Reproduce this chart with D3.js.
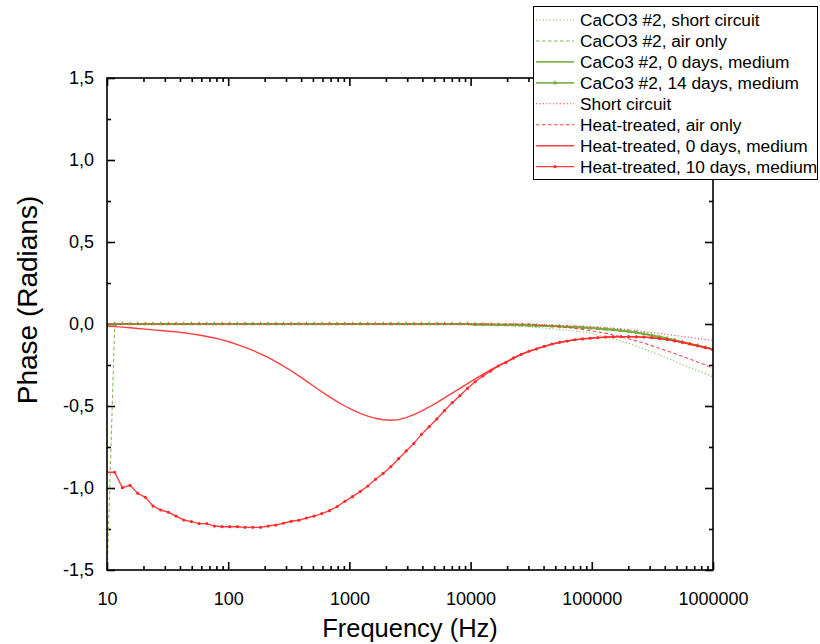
<!DOCTYPE html>
<html>
<head>
<meta charset="utf-8">
<script src="https://cdn.jsdelivr.net/npm/d3@7"></script>
<style>
  body { margin: 0; background: #fff; }
  svg { display: block; }
  text { font-family: "Liberation Sans", Arial, sans-serif; fill: #000; }
</style>
</head>
<body>
<svg id="chart" width="820" height="644"></svg>
<script>
// Sweep frequencies (Hz), 80 log-spaced points from 10 Hz to 1 MHz
const frequencies = [10, 11.57, 13.39, 15.49, 17.92, 20.73, 23.98, 27.74, 32.09, 37.13,
  42.96, 49.70, 57.50, 66.53, 76.96, 89.04, 103.0, 119.2, 137.8, 159.5,
  184.5, 213.4, 246.9, 285.6, 330.4, 382.3, 442.3, 511.7, 592.0, 684.6,
  792.1, 916.4, 1060, 1227, 1419, 1642, 1900, 2198, 2543, 2942,
  3402, 3936, 4554, 5268, 6095, 7051, 8158, 9434, 10914, 12627,
  14609, 16900, 19552, 22620, 26170, 30277, 35027, 40523, 46881, 54237,
  62747, 72593, 83983, 97116, 112360, 129990, 150390, 173980, 201280, 232870,
  269410, 311680, 360590, 417180, 482440, 558140, 645720, 747040, 864260, 1000000];

// Phase (radians) for each series, one value per frequency
const caco3ShortCircuit = [0, 0, 0, 0, 0, 0, 0, 0, 0, 0,
  0, 0, 0, 0, 0, 0, 0, 0, 0, 0,
  0, 0, 0, 0, 0, 0, 0, 0, 0, 0,
  0, 0, 0, 0, 0, 0, 0, 0, 0, 0,
  0, 0, 0, 0, 0, 0, 0, 0, -0.004, -0.005,
  -0.006, -0.008, -0.010, -0.012, -0.015, -0.018, -0.021, -0.025, -0.029, -0.033,
  -0.038, -0.043, -0.049, -0.056, -0.066, -0.077, -0.090, -0.104, -0.119, -0.135,
  -0.152, -0.170, -0.189, -0.208, -0.228, -0.248, -0.268, -0.284, -0.302, -0.322];

const caco3AirOnly = [-1.55, -0.01, 0, 0, 0, 0, 0, 0, 0, 0,
  0, 0, 0, 0, 0, 0, 0, 0, 0, 0,
  0, 0, 0, 0, 0, 0, 0, 0, 0, 0,
  0, 0, 0, 0, 0, 0, 0, 0, 0, 0,
  0, 0, 0, 0, 0, 0, 0, 0, -0.002, -0.003,
  -0.003, -0.004, -0.005, -0.005, -0.006, -0.007, -0.008, -0.010, -0.012, -0.014,
  -0.016, -0.018, -0.020, -0.023, -0.026, -0.030, -0.034, -0.039, -0.044, -0.050,
  -0.058, -0.066, -0.076, -0.086, -0.097, -0.108, -0.119, -0.130, -0.141, -0.152];

const caco3Day0 = [0, 0, 0, 0, 0, 0, 0, 0, 0, 0,
  0, 0, 0, 0, 0, 0, 0, 0, 0, 0,
  0, 0, 0, 0, 0, 0, 0, 0, 0, 0,
  0, 0, 0, 0, 0, 0, 0, 0, 0, 0,
  0, 0, 0, 0, 0, 0, 0, 0, -0.003, -0.003,
  -0.004, -0.004, -0.005, -0.006, -0.007, -0.008, -0.009, -0.011, -0.013, -0.015,
  -0.017, -0.019, -0.021, -0.024, -0.027, -0.031, -0.035, -0.040, -0.045, -0.051,
  -0.060, -0.068, -0.078, -0.088, -0.099, -0.110, -0.121, -0.132, -0.143, -0.154];

const caco3Day14 = [0, 0, 0, 0, 0, 0, 0, 0, 0, 0,
  0, 0, 0, 0, 0, 0, 0, 0, 0, 0,
  0, 0, 0, 0, 0, 0, 0, 0, 0, 0,
  0, 0, 0, 0, 0, 0, 0, 0, 0, 0,
  0, 0, 0, 0, 0, 0, 0, 0, -0.003, -0.003,
  -0.004, -0.005, -0.005, -0.006, -0.007, -0.008, -0.010, -0.011, -0.013, -0.015,
  -0.017, -0.019, -0.022, -0.025, -0.028, -0.032, -0.036, -0.041, -0.046, -0.052,
  -0.060, -0.069, -0.078, -0.088, -0.099, -0.110, -0.121, -0.132, -0.143, -0.155];

const shortCircuit = [0, 0, 0, 0, 0, 0, 0, 0, 0, 0,
  0, 0, 0, 0, 0, 0, 0, 0, 0, 0,
  0, 0, 0, 0, 0, 0, 0, 0, 0, 0,
  0, 0, 0, 0, 0, 0, 0, 0, 0, 0,
  0, 0, 0, 0, 0, 0, 0, 0, 0, 0,
  0, 0, 0, 0, 0, 0, -0.004, -0.005, -0.006, -0.008,
  -0.010, -0.012, -0.014, -0.016, -0.019, -0.022, -0.026, -0.030, -0.035, -0.040,
  -0.046, -0.052, -0.058, -0.064, -0.070, -0.076, -0.082, -0.088, -0.094, -0.101];

const heatAirOnly = [0, 0, 0, 0, 0, 0, 0, 0, 0, 0,
  0, 0, 0, 0, 0, 0, 0, 0, 0, 0,
  0, 0, 0, 0, 0, 0, 0, 0, 0, 0,
  0, 0, 0, 0, 0, 0, 0, 0, 0, 0,
  0, 0, 0, 0, 0, 0, 0, 0, 0, 0,
  0, 0, 0, 0, 0, 0, -0.006, -0.009, -0.012, -0.016,
  -0.021, -0.027, -0.033, -0.040, -0.048, -0.057, -0.067, -0.078, -0.090, -0.103,
  -0.117, -0.132, -0.148, -0.164, -0.180, -0.197, -0.214, -0.232, -0.250, -0.270];

const heatDay0 = [-0.012, -0.016, -0.019, -0.023, -0.027, -0.031, -0.036, -0.040, -0.044, -0.048,
  -0.053, -0.060, -0.067, -0.076, -0.085, -0.097, -0.110, -0.126, -0.142, -0.161,
  -0.182, -0.204, -0.230, -0.257, -0.285, -0.316, -0.348, -0.381, -0.413, -0.444,
  -0.473, -0.500, -0.524, -0.545, -0.562, -0.575, -0.584, -0.587, -0.583, -0.571,
  -0.553, -0.531, -0.506, -0.479, -0.451, -0.422, -0.393, -0.364, -0.335, -0.307,
  -0.280, -0.256, -0.233, -0.208, -0.186, -0.167, -0.152, -0.137, -0.123, -0.113,
  -0.104, -0.097, -0.091, -0.087, -0.083, -0.080, -0.078, -0.077, -0.077, -0.078,
  -0.080, -0.084, -0.089, -0.095, -0.103, -0.112, -0.122, -0.133, -0.144, -0.155];

const heatDay10 = [-0.904, -0.904, -0.998, -0.984, -1.032, -1.057, -1.110, -1.134, -1.148, -1.171,
  -1.195, -1.205, -1.217, -1.217, -1.232, -1.236, -1.236, -1.236, -1.240, -1.240,
  -1.240, -1.232, -1.226, -1.215, -1.203, -1.197, -1.183, -1.171, -1.156, -1.138,
  -1.113, -1.081, -1.053, -1.022, -0.988, -0.947, -0.911, -0.870, -0.821, -0.774,
  -0.728, -0.673, -0.626, -0.579, -0.528, -0.480, -0.437, -0.392, -0.352, -0.317,
  -0.287, -0.256, -0.234, -0.207, -0.185, -0.166, -0.152, -0.136, -0.122, -0.112,
  -0.104, -0.096, -0.091, -0.087, -0.083, -0.080, -0.078, -0.077, -0.077, -0.078,
  -0.080, -0.084, -0.089, -0.095, -0.103, -0.112, -0.122, -0.133, -0.144, -0.155];

const majorFreqTicks = [10, 100, 1000, 10000, 100000, 1000000];
const phaseTicks = [-1.5, -1.0, -0.5, 0.0, 0.5, 1.0, 1.5];
const phaseMinorTicks = [-1.25, -0.75, -0.25, 0.25, 0.75, 1.25];

const GREEN = "#74ad3c";
const RED = "#ff2a2a";

const seriesList = [
  { name: "CaCO3 #2, short circuit", values: caco3ShortCircuit, color: GREEN, dash: "1.2,2.2", width: 1.1, marker: null },
  { name: "CaCO3 #2, air only", values: caco3AirOnly, color: GREEN, dash: "3.5,2.5", width: 1.1, marker: null },
  { name: "CaCo3 #2, 0 days, medium", values: caco3Day0, color: GREEN, dash: null, width: 1.8, marker: null },
  { name: "CaCo3 #2, 14 days, medium", values: caco3Day14, color: GREEN, dash: null, width: 1.8, marker: "triangle" },
  { name: "Short circuit", values: shortCircuit, color: RED, dash: "1.2,2.2", width: 1.1, marker: null },
  { name: "Heat-treated, air only", values: heatAirOnly, color: RED, dash: "3.5,2.5", width: 1.1, marker: null },
  { name: "Heat-treated, 0 days, medium", values: heatDay0, color: RED, dash: null, width: 1.4, marker: null },
  { name: "Heat-treated, 10 days, medium", values: heatDay10, color: RED, dash: null, width: 1.4, marker: "circle" }
];

const svg = d3.select("#chart");
const plot = { left: 107, right: 713, top: 78, bottom: 570 };

const x = d3.scaleLog().domain([10, 1e6]).range([plot.left, plot.right]);
const y = d3.scaleLinear().domain([-1.5, 1.5]).range([plot.bottom, plot.top]);

// clip region for the data lines
svg.append("defs").append("clipPath").attr("id", "plot-clip")
  .append("rect")
  .attr("x", plot.left).attr("y", plot.top)
  .attr("width", plot.right - plot.left).attr("height", plot.bottom - plot.top);

const minorFreqTicks = [];
for (let d = 10; d < 1e6; d *= 10) {
  for (let k = 2; k <= 9; k++) minorFreqTicks.push(d * k);
}

const fmtPhase = v => d3.format(".1f")(v).replace(".", ",").replace("−", "-");

function styleAxis(g) {
  g.select(".domain").remove();
  g.selectAll(".tick line").attr("stroke", "#000").attr("stroke-width", 1.6);
  g.selectAll("text").style("font-size", "18px").attr("fill", "#000");
}

// bottom axis with labels
svg.append("g").attr("transform", `translate(0,${plot.bottom})`)
  .call(d3.axisBottom(x).tickValues(majorFreqTicks).tickSize(-8).tickPadding(22).tickFormat(d3.format("d")))
  .call(styleAxis);
svg.append("g").attr("transform", `translate(0,${plot.bottom})`)
  .call(d3.axisBottom(x).tickValues(minorFreqTicks).tickSize(-4).tickFormat(""))
  .call(styleAxis);
// top axis (ticks only)
svg.append("g").attr("transform", `translate(0,${plot.top})`)
  .call(d3.axisTop(x).tickValues(majorFreqTicks).tickSize(-8).tickFormat(""))
  .call(styleAxis);
svg.append("g").attr("transform", `translate(0,${plot.top})`)
  .call(d3.axisTop(x).tickValues(minorFreqTicks).tickSize(-4).tickFormat(""))
  .call(styleAxis);
// left axis with labels
svg.append("g").attr("transform", `translate(${plot.left},0)`)
  .call(d3.axisLeft(y).tickValues(phaseTicks).tickSize(-8).tickPadding(13).tickFormat(fmtPhase))
  .call(styleAxis);
svg.append("g").attr("transform", `translate(${plot.left},0)`)
  .call(d3.axisLeft(y).tickValues(phaseMinorTicks).tickSize(-4).tickFormat(""))
  .call(styleAxis);
// right axis (ticks only)
svg.append("g").attr("transform", `translate(${plot.right},0)`)
  .call(d3.axisRight(y).tickValues(phaseTicks).tickSize(-8).tickFormat(""))
  .call(styleAxis);
svg.append("g").attr("transform", `translate(${plot.right},0)`)
  .call(d3.axisRight(y).tickValues(phaseMinorTicks).tickSize(-4).tickFormat(""))
  .call(styleAxis);

// data lines
const dataLayer = svg.append("g").attr("clip-path", "url(#plot-clip)");
const line = d3.line().x(d => x(d[0])).y(d => y(d[1]));

seriesList.forEach(s => {
  const pts = frequencies.map((f, i) => [f, s.values[i]]);
  dataLayer.append("path")
    .datum(pts)
    .attr("fill", "none")
    .attr("stroke", s.color)
    .attr("stroke-width", s.width)
    .attr("stroke-dasharray", s.dash)
    .attr("stroke-opacity", s.dash ? 0.85 : 0.9)
    .attr("d", line);
  if (s.marker) {
    const sym = d3.symbol().type(s.marker === "triangle" ? d3.symbolTriangle : d3.symbolCircle).size(s.marker === "triangle" ? 9 : 8);
    dataLayer.append("g").selectAll("path")
      .data(pts)
      .join("path")
      .attr("transform", d => `translate(${x(d[0])},${y(d[1])})`)
      .attr("d", sym)
      .attr("fill", s.color);
  }
});

// plot frame
svg.append("rect")
  .attr("x", plot.left).attr("y", plot.top)
  .attr("width", plot.right - plot.left).attr("height", plot.bottom - plot.top)
  .attr("fill", "none").attr("stroke", "#000").attr("stroke-width", 1.6);

// axis titles
svg.append("text")
  .attr("x", (plot.left + plot.right) / 2).attr("y", 637)
  .attr("text-anchor", "middle").style("font-size", "25.5px")
  .text("Frequency (Hz)");
svg.append("text")
  .attr("transform", "translate(37,300) rotate(-90)")
  .attr("text-anchor", "middle").style("font-size", "28px")
  .text("Phase (Radians)");

// legend
const legend = svg.append("g");
legend.append("rect")
  .attr("x", 533.5).attr("y", 6.5).attr("width", 284).attr("height", 173)
  .attr("fill", "#fff").attr("stroke", "#000").attr("stroke-width", 1);
seriesList.forEach((s, i) => {
  const cy = 20 + i * 20.95;
  legend.append("line")
    .attr("x1", 536).attr("x2", 574).attr("y1", cy).attr("y2", cy)
    .attr("stroke", s.color).attr("stroke-width", s.width)
    .attr("stroke-dasharray", s.dash).attr("stroke-opacity", 0.9);
  if (s.marker) {
    const sym = d3.symbol().type(s.marker === "triangle" ? d3.symbolTriangle : d3.symbolCircle).size(s.marker === "triangle" ? 9 : 8);
    legend.append("path").attr("transform", `translate(555,${cy})`).attr("d", sym).attr("fill", s.color);
  }
  legend.append("text")
    .attr("x", 580).attr("y", cy).attr("dy", "0.35em")
    .style("font-size", "17.3px")
    .text(s.name);
});
</script>
</body>
</html>
